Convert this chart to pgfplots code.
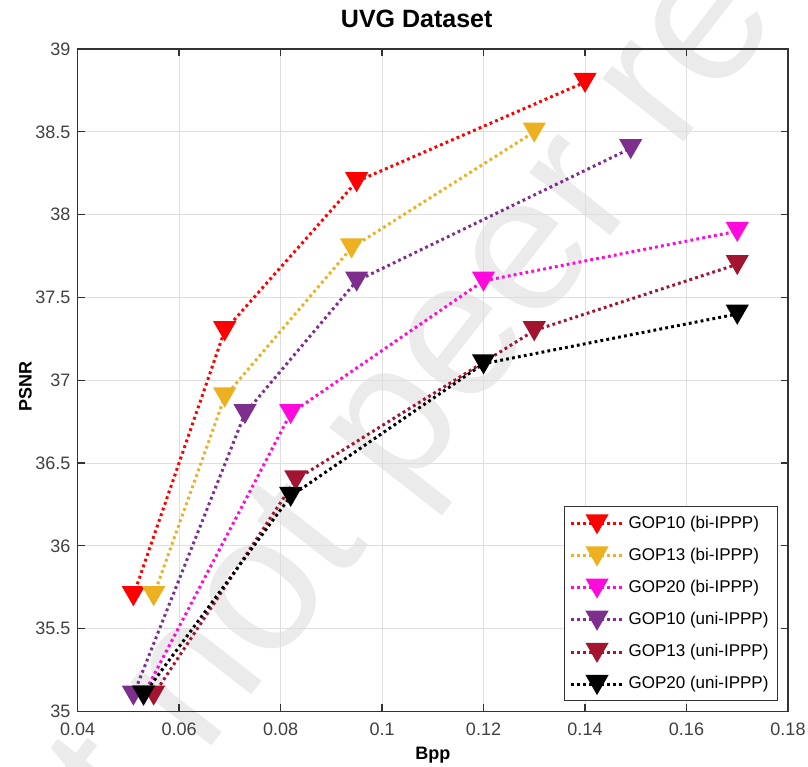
\documentclass[border=0pt]{standalone}
\usepackage{fontspec}
\setmainfont{Liberation Sans}
\usepackage{pgfplots}
\pgfplotsset{compat=1.18}

\definecolor{cRed}{RGB}{255,0,0}
\definecolor{cOrange}{RGB}{237,177,32}
\definecolor{cPink}{RGB}{255,10,220}
\definecolor{cPurple}{RGB}{126,47,142}
\definecolor{cDarkRed}{RGB}{162,20,47}
\definecolor{cWater}{RGB}{235,235,235}

% downward triangle centred on the data point (like MATLAB's 'v')
\pgfdeclareplotmark{tridown}{%
  \pgfpathmoveto{\pgfqpoint{-0.866\pgfplotmarksize}{0.75\pgfplotmarksize}}%
  \pgfpathlineto{\pgfqpoint{0.866\pgfplotmarksize}{0.75\pgfplotmarksize}}%
  \pgfpathlineto{\pgfqpoint{0pt}{-0.75\pgfplotmarksize}}%
  \pgfpathclose
  \pgfusepathqfillstroke
}

\pgfplotsset{
    tri/.style={mark=tridown, mark size=5.2pt, mark options={solid}},
}

\begin{document}
\begin{tikzpicture}
% faint watermark behind the axis (axis sits with its lower-left corner at the origin)
\node[overlay, rotate=52, anchor=base, text=cWater,
      font=\fontsize{97}{97}\selectfont] at (187.6pt,136.9pt) {Preprint not peer reviewed};

\begin{axis}[
    scale only axis,
    width=355pt, height=331pt,
    xmin=0.04, xmax=0.18, ymin=35, ymax=39,
    xtick={0.04,0.06,0.08,0.1,0.12,0.14,0.16,0.18},
    ytick={35,35.5,36,36.5,37,37.5,38,38.5,39},
    xticklabel style={/pgf/number format/fixed, /pgf/number format/precision=2, yshift=-2.4pt},
    yticklabel style={/pgf/number format/fixed, /pgf/number format/precision=1},
    /pgf/number format/assume math mode=true,
    tick label style={font=\fontsize{9}{10}\selectfont, text=black!75},
    grid=major,
    major grid style={color=black!13, line width=0.5pt},
    axis line style={black!80, line width=0.6pt},
    tick style={black!80, line width=0.6pt},
    major tick length=3.5pt,
    tick align=inside,
    title={UVG Dataset},
    title style={font=\fontsize{12.5}{14}\selectfont\bfseries, at={(0.5,1)}, anchor=base,
        yshift=4.8pt, xshift=-8pt},
    xlabel={Bpp}, ylabel={PSNR},
    label style={font=\fontsize{9}{11}\selectfont\bfseries},
    xlabel style={at={(0.5,0)}, anchor=base, yshift=-24pt},
    ylabel style={at={(0,0.5)}, anchor=center, yshift=26pt, xshift=-3pt},
    legend style={at={(1,0)}, anchor=south east, xshift=-5pt, yshift=5pt,
        draw=black!80, line width=0.5pt, font=\fontsize{8.5}{10}\selectfont,
        row sep=4.4pt, inner sep=2.5pt},
    legend cell align=left,
    legend image code/.code={
        \draw[mark repeat=2, mark phase=2, #1] plot coordinates {(0pt,0pt) (13pt,0pt) (26pt,0pt)};
    },
    every axis plot/.append style={line width=1.5pt, dash pattern=on 1.4pt off 1.6pt},
]
% GOP10 (bi-IPPP)
\addplot[color=cRed, tri] coordinates {
    (0.051,35.7) (0.069,37.3) (0.095,38.2) (0.140,38.8)
};
% GOP13 (bi-IPPP)
\addplot[color=cOrange, tri] coordinates {
    (0.055,35.7) (0.069,36.9) (0.094,37.8) (0.130,38.5)
};
% GOP20 (bi-IPPP)
\addplot[color=cPink, tri] coordinates {
    (0.053,35.1) (0.082,36.8) (0.120,37.6) (0.170,37.9)
};
% GOP10 (uni-IPPP)
\addplot[color=cPurple, tri] coordinates {
    (0.051,35.1) (0.073,36.8) (0.095,37.6) (0.149,38.4)
};
% GOP13 (uni-IPPP)
\addplot[color=cDarkRed, tri] coordinates {
    (0.055,35.1) (0.083,36.4) (0.130,37.3) (0.170,37.7)
};
% GOP20 (uni-IPPP)
\addplot[color=black, tri] coordinates {
    (0.053,35.1) (0.082,36.3) (0.120,37.1) (0.170,37.4)
};
\legend{GOP10 (bi-IPPP), GOP13 (bi-IPPP), GOP20 (bi-IPPP),
        GOP10 (uni-IPPP), GOP13 (uni-IPPP), GOP20 (uni-IPPP)}
\end{axis}
\pgfresetboundingbox
\path (-38.75pt,-27.5pt) rectangle (365pt,355.5pt);
\end{tikzpicture}
\end{document}
